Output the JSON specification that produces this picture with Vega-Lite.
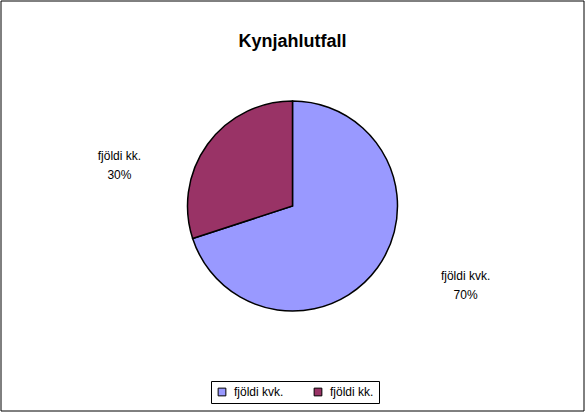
{
  "$schema": "https://vega.github.io/schema/vega-lite/v6.json",
  "autosize": {"type": "fit", "contains": "padding"},
  "width": 585,
  "height": 412,
  "padding": 0,
  "background": "white",
  "title": {
    "text": "Kynjahlutfall",
    "font": "Liberation Sans",
    "fontSize": 18,
    "fontWeight": "bold",
    "color": "black",
    "anchor": "middle",
    "offset": -50
  },
  "data": {
    "values": [
      {"category": "fjöldi kvk.", "value": 70, "label": "70%"},
      {"category": "fjöldi kk.", "value": 30, "label": "30%"}
    ]
  },
  "resolve": {"scale": {"theta": "independent"}},
  "layer": [
    {
      "data": {"values": [{"frame": 1}]},
      "mark": {"type": "rect", "fill": null, "fillOpacity": 0, "stroke": "black", "strokeWidth": 1},
      "encoding": {}
    },
    {
      "mark": {"type": "arc", "outerRadius": 105, "stroke": "black", "strokeWidth": 1.5},
      "encoding": {
        "theta": {"field": "value", "type": "quantitative", "stack": true},
        "order": {"field": "value", "sort": "descending"},
        "color": {
          "field": "category",
          "type": "nominal",
          "sort": ["fjöldi kvk.", "fjöldi kk."],
          "scale": {"domain": ["fjöldi kvk.", "fjöldi kk."], "range": ["#9999FF", "#993366"]},
          "legend": {
            "title": null,
            "orient": "none",
            "direction": "horizontal",
            "legendX": 210,
            "legendY": 380,
            "symbolType": "square",
            "symbolSize": 60,
            "symbolStrokeColor": "black",
            "symbolStrokeWidth": 1,
            "labelFont": "Liberation Sans",
            "labelFontSize": 12,
            "labelOffset": 6,
            "labelColor": "black",
            "strokeColor": "black",
            "padding": 5,
            "columnPadding": 28
          }
        }
      }
    },
    {
      "layer": [
        {
          "mark": {"type": "text", "radius": 183, "dy": 10, "font": "Liberation Sans", "fontSize": 12, "color": "black", "align": "center", "baseline": "middle"},
          "encoding": {"text": {"field": "category", "type": "nominal"}}
        },
        {
          "mark": {"type": "text", "radius": 183, "dy": 29, "font": "Liberation Sans", "fontSize": 12, "color": "black", "align": "center", "baseline": "middle"},
          "encoding": {"text": {"field": "label", "type": "nominal"}}
        }
      ],
      "encoding": {
        "theta": {"field": "value", "type": "quantitative", "stack": true, "scale": {"range": [-0.297, 5.986]}},
        "order": {"field": "value", "sort": "descending"}
      }
    }
  ]
}
